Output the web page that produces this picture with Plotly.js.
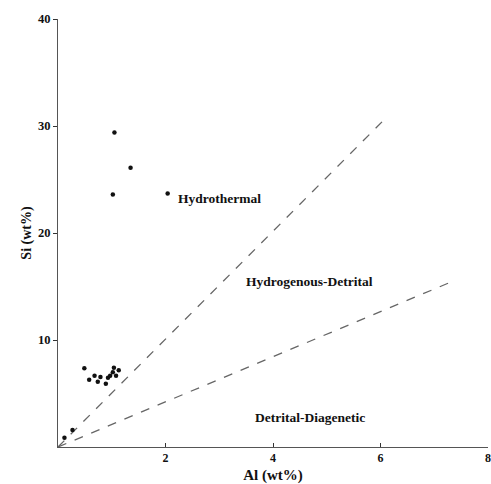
<!DOCTYPE html>
<html>
<head>
<meta charset="utf-8">
<script src="https://cdn.plot.ly/plotly-3.0.1.min.js"></script>
<style>html,body{margin:0;padding:0;background:#fff;}#chart{width:491px;height:484px;}</style>
</head>
<body>
<div id="chart"></div>
<script>
// Sample data: Al (wt%) vs Si (wt%)
var alValues = [1.05, 1.35, 1.02, 2.04, 0.12, 0.27, 0.49, 0.58, 0.68, 0.74, 0.79, 0.89, 0.93, 0.97, 1.02, 1.04, 1.08, 1.13];
var siValues = [29.4, 26.1, 23.6, 23.7, 0.87, 1.6, 7.36, 6.29, 6.66, 6.10, 6.54, 5.92, 6.48, 6.66, 6.98, 7.41, 6.66, 7.17];

// Boundary lines
var line1Al = [0, 6.05];
var line1Si = [0, 30.5];
var line2Al = [0, 7.35];
var line2Si = [0, 15.5];

// Field labels
var fieldNames = ["Hydrothermal", "Hydrogenous-Detrital", "Detrital-Diagenetic"];
var fieldAl = [3.0, 4.67, 4.69];
var fieldSi = [23.2, 15.5, 2.8];

var xTicks = [2, 4, 6, 8];
var yTicks = [10, 20, 30, 40];

var serif = "Liberation Serif, Times New Roman, serif";

var traces = [
  {x: line1Al, y: line1Si, mode: "lines", line: {color: "#666", width: 1.3, dash: "dash"}, hoverinfo: "skip", showlegend: false},
  {x: line2Al, y: line2Si, mode: "lines", line: {color: "#666", width: 1.3, dash: "dash"}, hoverinfo: "skip", showlegend: false},
  {x: alValues, y: siValues, mode: "markers", marker: {color: "#111", size: 4.5}, showlegend: false}
];

var annotations = fieldNames.map(function(n, i){
  return {x: fieldAl[i], y: fieldSi[i], text: "<b>" + n + "</b>", showarrow: false,
          font: {family: serif, size: 13.5, color: "#111"}};
});

var layout = {
  width: 491, height: 484,
  margin: {l: 58, r: 3, t: 19, b: 37},
  paper_bgcolor: "#fff", plot_bgcolor: "#fff",
  showlegend: false,
  font: {family: serif, color: "#111"},
  xaxis: {
    range: [0, 8], tickvals: xTicks, ticktext: xTicks.map(function(v){return "<b>"+v+"</b>";}),
    showgrid: false, zeroline: false, showline: true, linecolor: "#555", linewidth: 1,
    ticks: "inside", ticklen: 4, tickcolor: "#333",
    tickfont: {family: serif, size: 12, color: "#111"},
    title: {text: "<b>Al (wt%)</b>", font: {family: serif, size: 15, color: "#111"}, standoff: 5}
  },
  yaxis: {
    range: [0, 40], tickvals: yTicks, ticktext: yTicks.map(function(v){return "<b>"+v+"</b>";}),
    showgrid: false, zeroline: false, showline: true, linecolor: "#555", linewidth: 1,
    ticks: "outside", ticklen: 4, tickcolor: "#333",
    tickfont: {family: serif, size: 12.5, color: "#111"},
    title: {text: "<b>Si (wt%)</b>", font: {family: serif, size: 14, color: "#111"}, standoff: 3}
  },
  annotations: annotations
};

Plotly.newPlot("chart", traces, layout, {displayModeBar: false, staticPlot: true});
</script>
</body>
</html>
